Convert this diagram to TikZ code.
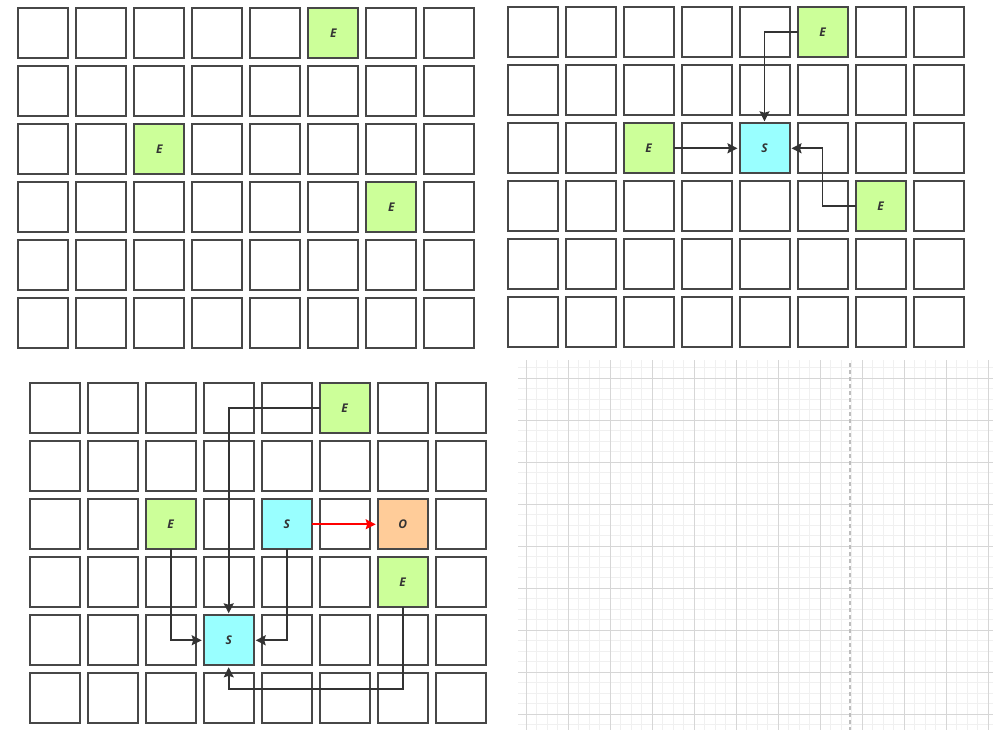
\documentclass[tikz,border=0pt]{standalone}
\usepackage{fontspec}
\setmainfont{Open Sans}
\usetikzlibrary{arrows.meta,calc}
\definecolor{boxline}{HTML}{474747}
\definecolor{arrowc}{HTML}{333333}
\definecolor{efill}{HTML}{CCFF99}
\definecolor{sfill}{HTML}{99FFFF}
\definecolor{ofill}{HTML}{FFCC99}
\definecolor{gridminor}{HTML}{F0F0F0}
\definecolor{gridmajor}{HTML}{D6D6D6}
\definecolor{pagebreak}{HTML}{BDBDBD}
\definecolor{textc}{HTML}{333333}
\definecolor{redline}{HTML}{FF0000}
\begin{document}
\begin{tikzpicture}[x=1pt,y=-1pt,
  cell/.style={draw=boxline,line width=2pt,fill=white,minimum size=50pt,inner sep=0pt,outer sep=0pt,
    font=\fontsize{12}{14}\selectfont\bfseries\itshape,text=textc},
  ecell/.style={cell,fill=efill},
  scell/.style={cell,fill=sfill},
  ocell/.style={cell,fill=ofill},
  conn/.style={draw=arrowc,line width=1.7pt,shorten >=2pt,-{Stealth[length=10pt,width=10pt,inset=1.5pt]}},
  redconn/.style={conn,draw=redline,-{Stealth[length=10pt,width=10pt,inset=1.5pt,fill=redline]}},
  minorline/.style={draw=gridminor,line width=0.7pt},
  majorline/.style={draw=gridmajor,line width=0.8pt}]
\useasboundingbox[fill=white] (0,0) rectangle (993,730);

% background grid of the empty canvas (bottom right)
\begin{scope}
  \clip (518,360) rectangle (993,730);
  \foreach \i in {-1,...,45} \draw[minorline] ({526.3+10.5*\i},360) -- ({526.3+10.5*\i},730);
  \foreach \i in {-2,...,34} \draw[minorline] (518,{378.3+10.5*\i}) -- (993,{378.3+10.5*\i});
  \foreach \i in {0,...,11} \draw[majorline] ({526.3+42*\i},360) -- ({526.3+42*\i},730);
  \foreach \i in {0,...,8} \draw[majorline] (518,{378.3+42*\i}) -- (993,{378.3+42*\i});
\end{scope}
\coordinate (pbtop) at (850,363);
\coordinate (pbbot) at (850,730);
\draw[pagebreak,line width=1.5pt,dash pattern=on 4pt off 3pt] (pbtop) -- (pbbot);

% grids of cells
\foreach \c in {0,...,7}{
  \foreach \r in {0,...,5}{
    \node[cell] (p1-\c-\r) at ({18.3+25+58*\c},{8.3+25+58*\r}) {};
    \node[cell] (p2-\c-\r) at ({507.5+25+58*\c},{7.3+25+58*\r}) {};
    \node[cell] (p3-\c-\r) at ({29.7+25+58*\c},{383.3+25+58*\r}) {};
  }
}

% panel 1
\node[ecell] (a1) at (p1-5-0.center) {E};
\node[ecell] (a2) at (p1-2-2.center) {E};
\node[ecell] (a3) at (p1-6-3.center) {E};

% panel 2
\node[ecell] (b1) at (p2-5-0.center) {E};
\node[ecell] (b2) at (p2-2-2.center) {E};
\node[scell] (bs) at (p2-4-2.center) {S};
\node[ecell] (b3) at (p2-6-3.center) {E};
\draw[conn] (b1.west) -| (bs.north);
\draw[conn] (b2.east) -- (bs.west);
\draw[conn] (b3.west) -| (p2-5-2.center) -- (bs.east);

% panel 3
\node[ecell] (c1) at (p3-5-0.center) {E};
\node[ecell] (c2) at (p3-2-2.center) {E};
\node[scell] (cs1) at (p3-4-2.center) {S};
\node[ocell] (co) at (p3-6-2.center) {O};
\node[ecell] (c3) at (p3-6-3.center) {E};
\node[scell] (cs2) at (p3-3-4.center) {S};
\coordinate (k3) at ($(cs2.south)+(0,24)$);
\draw[conn] (c1.west) -| (cs2.north);
\draw[conn] (c2.south) |- (cs2.west);
\draw[conn] (cs1.south) |- (cs2.east);
\draw[conn] (c3.south) |- (k3) -- (cs2.south);
\draw[redconn] (cs1.east) -- (co.west);
\end{tikzpicture}
\end{document}
